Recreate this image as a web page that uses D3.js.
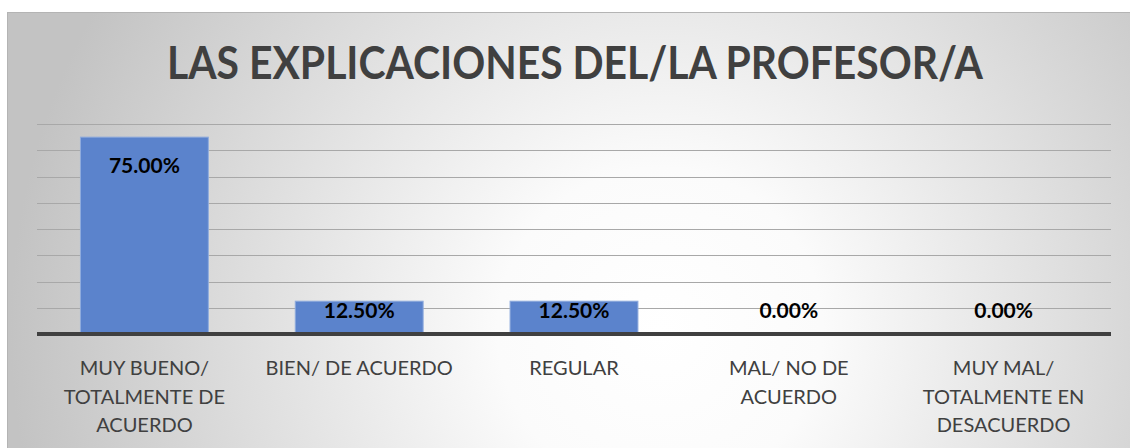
<!DOCTYPE html>
<html>
<head>
<meta charset="utf-8">
<script src="https://cdn.jsdelivr.net/npm/d3@7"></script>
<style>
  html, body { margin: 0; padding: 0; background: #fff; }
  svg { display: block; font-family: Lato, "Open Sans", sans-serif; }
</style>
</head>
<body>
<div id="chart"></div>
<script>
const title = "LAS EXPLICACIONES DEL/LA PROFESOR/A";
const categories = [
  "MUY BUENO/ TOTALMENTE DE ACUERDO",
  "BIEN/ DE ACUERDO",
  "REGULAR",
  "MAL/ NO DE ACUERDO",
  "MUY MAL/ TOTALMENTE EN DESACUERDO"
];
// how the category names wrap under the axis
const categoryLines = [
  ["MUY BUENO/", "TOTALMENTE DE", "ACUERDO"],
  ["BIEN/ DE ACUERDO"],
  ["REGULAR"],
  ["MAL/ NO DE", "ACUERDO"],
  ["MUY MAL/", "TOTALMENTE EN", "DESACUERDO"]
];
const values = [0.75, 0.125, 0.125, 0, 0];
const gridTicks = [0, 0.1, 0.2, 0.3, 0.4, 0.5, 0.6, 0.7, 0.8];

const width = 1130, height = 448;
const margin = {left: 37, right: 19, top: 124, bottom: 114};

const svg = d3.select("#chart").append("svg")
  .attr("width", width)
  .attr("height", height);

// background gradient like the office chart style
const defs = svg.append("defs");
const grad = defs.append("radialGradient")
  .attr("id", "bg")
  .attr("gradientUnits", "userSpaceOnUse")
  .attr("cx", 660).attr("cy", 330).attr("r", 650);
grad.append("stop").attr("offset", 0).attr("stop-color", "#ffffff");
grad.append("stop").attr("offset", 0.25).attr("stop-color", "#fbfbfb");
grad.append("stop").attr("offset", 1).attr("stop-color", "#c3c3c3");

svg.append("rect")
  .attr("x", 7.5).attr("y", 12.5)
  .attr("width", width + 10).attr("height", height + 10)
  .attr("fill", "url(#bg)")
  .attr("stroke", "#b4b4b4")
  .attr("stroke-width", 1);

const x = d3.scaleBand()
  .domain(categories)
  .range([margin.left, width - margin.right])
  .paddingInner(0.4)
  .paddingOuter(0.2);

const y = d3.scaleLinear()
  .domain([0, 0.8])
  .range([height - margin.bottom, margin.top]);

// title
svg.append("text")
  .attr("x", 575)
  .attr("y", 79)
  .attr("text-anchor", "middle")
  .attr("font-size", 45)
  .attr("font-weight", 700)
  .attr("fill", "#404040")
  .attr("textLength", 816)
  .attr("lengthAdjust", "spacingAndGlyphs")
  .text(title);

// gridlines
svg.append("g")
  .selectAll("line")
  .data(gridTicks.slice(1))
  .join("line")
  .attr("x1", margin.left)
  .attr("x2", width - margin.right)
  .attr("y1", d => Math.round(y(d)) + 0.5)
  .attr("y2", d => Math.round(y(d)) + 0.5)
  .attr("stroke", "#a8a8a8")
  .attr("stroke-width", 1);

// bars
svg.append("g")
  .selectAll("rect")
  .data(values)
  .join("rect")
  .attr("x", (d, i) => x(categories[i]) + 0.5)
  .attr("y", d => y(d))
  .attr("width", x.bandwidth() - 1)
  .attr("height", d => y(0) - y(d))
  .attr("fill", "#5b83cc")
  .attr("stroke", "#8fabdd")
  .attr("stroke-width", 1);

// baseline
svg.append("line")
  .attr("x1", margin.left)
  .attr("x2", width - margin.right)
  .attr("y1", y(0))
  .attr("y2", y(0))
  .attr("stroke", "#404040")
  .attr("stroke-width", 4);

// data labels (inside end)
svg.append("g")
  .selectAll("text")
  .data(values)
  .join("text")
  .attr("x", (d, i) => x(categories[i]) + x.bandwidth() / 2)
  .attr("y", d => Math.min(y(d) + 29, y(0) - 23))
  .attr("dy", "0.35em")
  .attr("text-anchor", "middle")
  .attr("font-size", 21)
  .attr("font-weight", 700)
  .attr("fill", "#000")
  .text(d => d3.format(".2%")(d));

// category labels
const xl = svg.append("g")
  .selectAll("text")
  .data(categories)
  .join("text")
  .attr("x", d => x(d) + x.bandwidth() / 2)
  .attr("y", 368)
  .attr("text-anchor", "middle")
  .attr("font-size", 20)
  .attr("fill", "#404040");

xl.selectAll("tspan")
  .data((d, i) => categoryLines[i])
  .join("tspan")
  .attr("x", function () { return this.parentNode.getAttribute("x"); })
  .attr("dy", (d, i) => i === 0 ? 7 : 28.5)
  .text(d => d);
</script>
</body>
</html>
